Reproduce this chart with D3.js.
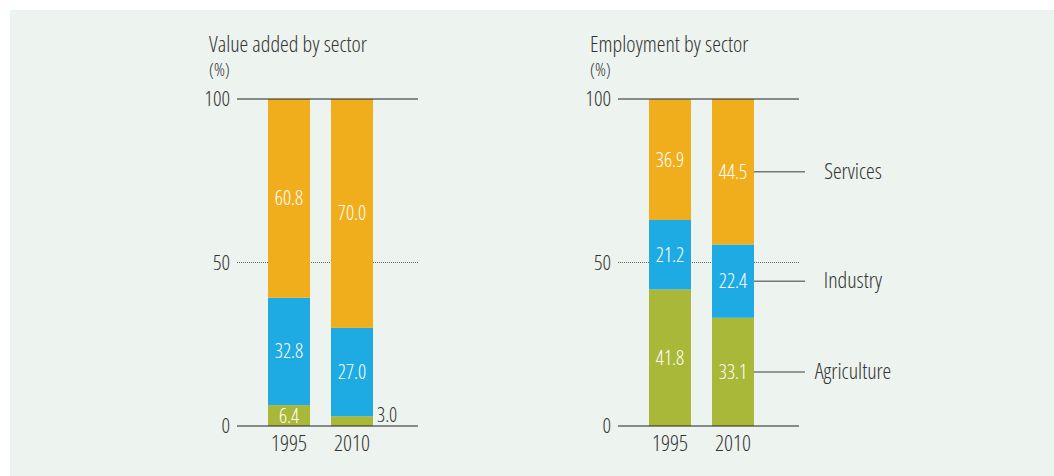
<!DOCTYPE html>
<html><head><meta charset="utf-8">
<script src="https://cdn.jsdelivr.net/npm/d3@7"></script>
<style>
html,body{margin:0;padding:0;background:#fff;}
svg{display:block;}
text{font-family:"Open Sans",sans-serif;font-stretch:87.5%;font-weight:300;}
</style></head><body>
<svg id="chart" width="1054" height="476"></svg>
<script>
const years = ["1995", "2010"];
const sectors = ["Agriculture", "Industry", "Services"];
const valueAdded = { "1995": [6.4, 32.8, 60.8], "2010": [3.0, 27.0, 70.0] };
const employment = { "1995": [41.8, 21.2, 36.9], "2010": [33.1, 22.4, 44.5] };
const yTicks = [0, 50, 100];
const titles = ["Value added by sector", "Employment by sector"];
const colors = ["#a9b838", "#1eabe3", "#f0ae1c"];

const svg = d3.select("#chart");
svg.append("rect").attr("x", 10).attr("y", 10).attr("width", 1044).attr("height", 466).attr("fill", "#edf3ef");

const y = d3.scaleLinear().domain([0, 100]).range([426, 99]);

function panel(x0, data, title, showLegend) {
  const g = svg.append("g");
  const x = d3.scaleBand().domain(years).range([x0 + 10, x0 + 157]).paddingInner(1/3).paddingOuter(1/3);
  const axisLeft = x0, axisRight = x0 + 181;
  g.append("text").attr("x", x0 - 28).attr("y", 52).attr("font-size", 22).attr("fill", "#333").text(title);
  g.append("text").attr("x", x0 - 28).attr("y", 76).attr("font-size", 18).attr("fill", "#333").text("(%)");
  g.append("line").attr("x1", axisLeft).attr("x2", axisRight).attr("y1", y(50)).attr("y2", y(50))
    .attr("stroke", "#666").attr("stroke-width", 1).attr("stroke-dasharray", "1,1");
  years.forEach(yr => {
    let cum = 0;
    data[yr].forEach((v, i) => {
      const y0 = cum, y1 = cum + v; cum = y1;
      g.append("rect").attr("x", x(yr)).attr("width", x.bandwidth())
        .attr("y", y(y1)).attr("height", y(y0) - y(y1)).attr("fill", colors[i]);
      const mid = y((y0 + y1) / 2);
      if (v < 5) {
        g.append("text").attr("x", x(yr) + x.bandwidth() + 4).attr("y", 422).attr("font-size", 20).attr("fill", "#333")
          .text(v.toFixed(1));
      } else {
        g.append("text").attr("x", x(yr) + x.bandwidth() / 2).attr("y", mid + 7).attr("text-anchor", "middle")
          .attr("font-size", 20).attr("fill", "#fff").text(v.toFixed(1));
      }
    });
  });
  [0, 100].forEach(t => {
    g.append("line").attr("x1", axisLeft).attr("x2", axisRight).attr("y1", y(t)).attr("y2", y(t))
      .attr("stroke", "#222").attr("stroke-width", 1.2);
  });
  yTicks.forEach(t => {
    g.append("text").attr("x", x0 - 7).attr("y", y(t) + 7).attr("text-anchor", "end")
      .attr("font-size", 21).attr("fill", "#333").text(t);
  });
  years.forEach(yr => {
    g.append("text").attr("x", x(yr) + x.bandwidth() / 2).attr("y", 451).attr("text-anchor", "middle")
      .attr("font-size", 22).attr("fill", "#333").text(yr);
  });
  if (showLegend) {
    const last = years[years.length - 1];
    let cum = 0;
    data[last].forEach((v, i) => {
      const mid = y(cum + v / 2); cum += v;
      const xe = x(last) + x.bandwidth();
      g.append("line").attr("x1", xe).attr("x2", xe + 51).attr("y1", mid).attr("y2", mid)
        .attr("stroke", "#777").attr("stroke-width", 1.5);
      g.append("text").attr("x", xe + 99).attr("y", mid + 7).attr("text-anchor", "middle")
        .attr("font-size", 22).attr("fill", "#333").text(sectors[i]);
    });
  }
}
panel(237, valueAdded, titles[0], false);
panel(618, employment, titles[1], true);
</script>
</body></html>
